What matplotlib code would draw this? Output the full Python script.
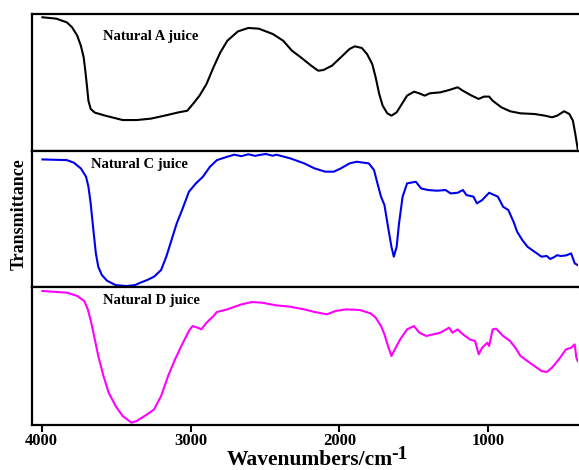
import matplotlib
matplotlib.use("Agg")
import matplotlib.pyplot as plt

# ---- data (wavenumber cm^-1, relative transmittance within each panel, 0-100) ----
wn_a = [3995, 3901, 3831, 3796, 3761, 3737, 3718, 3707, 3695, 3686, 3671, 3643, 3573,
        3456, 3362, 3268, 3175, 3081, 3022, 2975, 2940, 2893, 2846, 2800, 2753, 2682,
        2612, 2542, 2448, 2378, 2319, 2260, 2190, 2143, 2108, 2050, 1979, 1932, 1897,
        1850, 1815, 1780, 1757, 1733, 1710, 1679, 1651, 1616, 1581, 1546, 1499, 1464,
        1428, 1393, 1323, 1264, 1206, 1171, 1112, 1065, 1030, 995, 971, 913, 854, 784,
        690, 620, 573, 538, 491, 456, 432, 416, 400]
t_a = [97.6, 96.6, 93.9, 90.3, 84.2, 76.9, 68.4, 58.6, 46.5, 36.7, 30.7, 28.0, 25.8,
       22.6, 22.6, 23.6, 25.8, 28.2, 29.4, 35.5, 40.4, 48.9, 61.1, 72.0, 80.5, 87.3,
       89.8, 89.3, 85.4, 80.5, 73.2, 68.4, 62.3, 58.6, 59.1, 62.3, 69.6, 74.5, 76.4,
       75.2, 70.8, 63.5, 53.8, 41.6, 33.1, 27.5, 25.8, 28.2, 34.3, 40.4, 43.3, 42.1,
       40.4, 42.1, 42.8, 44.5, 46.5, 44.0, 40.4, 38.0, 39.7, 39.7, 36.7, 31.9, 29.0, 27.5,
       27.0, 25.8, 24.6, 25.8, 29.0, 27.0, 22.1, 12.4, 1.5]

wn_c = [3995, 3831, 3784, 3737, 3702, 3686, 3671, 3662, 3648, 3636, 3620, 3596, 3561,
        3503, 3432, 3374, 3339, 3292, 3245, 3198, 3163, 3128, 3093, 3057, 3011, 2964,
        2917, 2870, 2823, 2753, 2706, 2659, 2612, 2565, 2542, 2495, 2448, 2425, 2331,
        2237, 2167, 2096, 2038, 1991, 1932, 1885, 1803, 1768, 1745, 1721, 1698, 1674,
        1651, 1635, 1616, 1600, 1576, 1546, 1487, 1452, 1405, 1346, 1288, 1253, 1206,
        1171, 1147, 1100, 1077, 1042, 995, 936, 901, 866, 831, 807, 772, 737, 690, 643,
        608, 585, 561, 538, 514, 479, 444, 420, 400]
t_c = [93.8, 93.3, 91.4, 87.2, 81.1, 73.7, 61.5, 51.7, 37.0, 24.7, 14.9, 8.8, 4.6,
       1.4, 0.7, 1.4, 3.1, 5.1, 7.6, 12.5, 22.3, 34.5, 46.8, 56.6, 70.1, 76.2,
       81.1, 88.4, 93.3, 95.8, 97.3, 96.2, 97.6, 96.4, 97.0, 97.8, 96.5, 97.3, 94.6,
       90.9, 87.2, 84.8, 84.8, 87.2, 90.9, 92.1, 90.9, 86.0, 76.2, 66.4, 60.3, 44.3,
       29.6, 22.3, 29.6, 46.8, 66.4, 76.2, 77.4, 72.5, 71.3, 70.8, 71.3, 68.8, 69.3,
       71.3, 67.6, 66.4, 61.5, 63.9, 69.3, 66.4, 59.0, 56.6, 48.0, 40.7, 34.5, 29.6, 25.9, 22.3,
       22.8, 20.6, 21.8, 23.4, 22.8, 23.2, 24.7, 17.4, 16.1]

wn_d = [3995, 3831, 3761, 3714, 3690, 3667, 3643, 3620, 3585, 3550, 3503, 3456, 3397,
        3362, 3292, 3245, 3198, 3151, 3104, 3057, 3011, 2987, 2952, 2928, 2893, 2846,
        2823, 2753, 2659, 2589, 2518, 2425, 2331, 2237, 2167, 2085, 2026, 1956, 1862,
        1792, 1757, 1721, 1698, 1674, 1651, 1628, 1593, 1546, 1499, 1464, 1417, 1370,
        1323, 1264, 1241, 1206, 1171, 1124, 1089, 1065, 1042, 1007, 995, 971, 948, 901,
        854, 819, 784, 737, 690, 643, 608, 573, 526, 479, 444, 420, 409, 400]
t_d = [97.1, 95.9, 93.5, 89.8, 83.8, 74.1, 62.0, 50.0, 35.5, 23.4, 13.7, 6.5, 1.7,
       2.9, 7.7, 11.3, 21.0, 35.5, 47.6, 58.4, 68.1, 71.7, 70.5, 69.3, 74.1, 79.0,
       81.9, 83.8, 87.4, 89.1, 88.6, 86.7, 85.7, 83.8, 81.9, 80.2, 82.6, 83.8, 83.3,
       80.9, 77.8, 71.7, 65.7, 57.2, 50.0, 54.8, 62.0, 69.3, 71.7, 66.9, 64.5, 65.7,
       66.9, 70.5, 66.9, 69.3, 65.7, 62.0, 60.8, 51.2, 56.0, 59.6, 57.2, 69.3, 69.8, 64.5,
       60.8, 56.0, 50.0, 46.3, 42.7, 39.1, 38.4, 41.5, 47.6, 54.8, 56.0, 58.4, 48.8, 46.3]

names = ["Natural A juice", "Natural C juice", "Natural D juice"]
colors = ["#000000", "#0000ee", "#ff00ff"]
ticks = [4000, 3000, 2000, 1000]
tick_labels = ["4000", "3000", "2000", "1000"]
label_pos = [(0.130, 0.839), (0.1075, 0.904), (0.130, 0.899)]

serif = ["Liberation Serif", "DejaVu Serif"]

fig = plt.figure(figsize=(5.79, 4.70), dpi=100)
left, right = 32 / 579, 578 / 579
tops = [14, 151, 287]
bots = [151, 287, 425]
series = [(wn_a, t_a), (wn_c, t_c), (wn_d, t_d)]
axes = []
for i in range(3):
    y0 = 1 - bots[i] / 470
    h = (bots[i] - tops[i]) / 470
    ax = fig.add_axes([left, y0, right - left, h])
    x, y = series[i]
    ax.plot(x, y, color=colors[i], lw=1.5, solid_joinstyle="round")
    ax.set_xlim(4065, 398)
    ax.set_ylim(0, 100)
    ax.set_yticks([])
    for s in ["left", "top", "bottom"]:
        ax.spines[s].set_linewidth(1.6)
    ax.spines["right"].set_visible(False)
    ax.text(label_pos[i][0], label_pos[i][1], names[i], transform=ax.transAxes,
            fontsize=10.5, fontweight="bold", family=serif, va="center", ha="left")
    if i < 2:
        ax.set_xticks([])
    else:
        ax.set_xticks(ticks)
        ax.set_xticklabels(tick_labels, fontsize=12, fontweight="bold", family=serif)
        ax.tick_params(axis="x", direction="out", length=5, width=1.5, pad=1)
    axes.append(ax)

fig.text(0.033, 0.545, "Transmittance", rotation=90, fontsize=13, fontweight="bold",
         family=serif, ha="center", va="center")
xl = fig.text(0.535, 0.010, "Wavenumbers/cm", fontsize=15.5, fontweight="bold",
              family=serif, ha="center", va="baseline")
axes[2].annotate("-1", xy=(1, 0), xycoords=xl, xytext=(-1, 5), textcoords="offset points",
                 fontsize=14, fontweight="bold", family=serif, va="bottom", ha="left",
                 annotation_clip=False)

fig.savefig("out.png", dpi=100)
